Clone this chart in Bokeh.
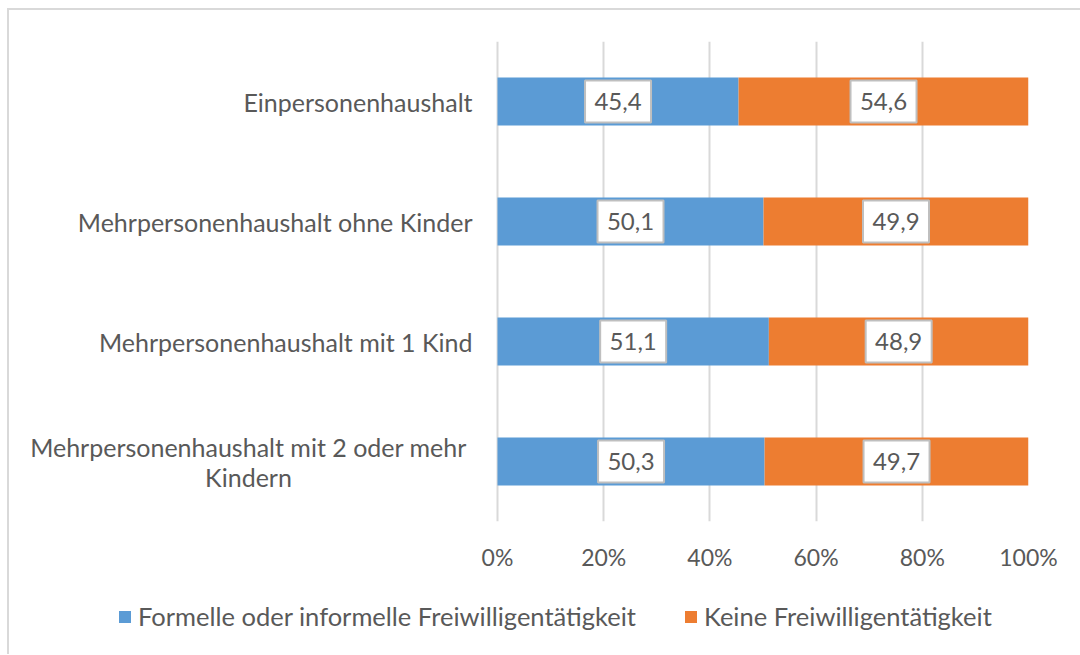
from bokeh.plotting import figure
from bokeh.layouts import column
from bokeh.models import (FactorRange, Range1d, FixedTicker, PrintfTickFormatter,
                          ColumnDataSource, Legend, LegendItem, InlineStyleSheet, Grid)
from bokeh.core.properties import value
from bokeh.embed import file_html
from bokeh.resources import INLINE

categories = ["Einpersonenhaushalt", "Mehrpersonenhaushalt ohne Kinder",
              "Mehrpersonenhaushalt mit 1 Kind", "Mehrpersonenhaushalt mit 2 oder mehr Kindern"]
# the last category label is wrapped onto two lines
wrapped_label = ["Mehrpersonenhaushalt mit 2 oder mehr", "Kindern"]
freiwillig = [45.4, 50.1, 51.1, 50.3]
keine = [54.6, 49.9, 48.9, 49.7]
series_names = ["Formelle oder informelle Freiwilligentätigkeit", "Keine Freiwilligentätigkeit"]
x_ticks = [0, 20, 40, 60, 80, 100]
colors = ["#5B9BD5", "#ED7D31"]

FONT = "Lato"
TXT = "#595959"
CAT_FS = "25px"
LEG_FS = "25.5px"
TICK_FS = "23px"

# layout geometry (pixels)
W = 1080
H_MAIN, H_LEG = 590, 64
LEFT_GUTTER = 497          # space for category labels left of the 0% line
RIGHT = 52
PLOT_W = W - LEFT_GUTTER - RIGHT
x_start = -100 * LEFT_GUTTER / PLOT_W

BG = ("background: linear-gradient(#D9D9D9,#D9D9D9) 7px {top}px / 2px 100% no-repeat{extra}, #FFFFFF;")
css_main = ":host { " + BG.format(top=8, extra=", linear-gradient(#D9D9D9,#D9D9D9) 7px 8px / 100% 2px no-repeat") + " }"
css_leg = ":host { " + BG.format(top=0, extra="") + " }"

factors = list(reversed(categories))
p = figure(width=W, height=H_MAIN,
           y_range=FactorRange(*factors), x_range=Range1d(x_start, 100),
           output_backend="svg", toolbar_location=None, y_axis_location=None,
           min_border_left=0, min_border_right=RIGHT, min_border_top=41, min_border_bottom=69)
p.stylesheets = [InlineStyleSheet(css=css_main)]
p.border_fill_color = None
p.background_fill_color = None

src = ColumnDataSource(dict(cat=categories, a=freiwillig, b=keine))
rs = p.hbar_stack(["a", "b"], y="cat", height=0.4, color=colors, source=src, line_width=0)

# data labels
lx, ly, lt = [], [], []
for c, a, b in zip(categories, freiwillig, keine):
    lx += [a / 2, a + b / 2]
    ly += [c, c]
    lt += [f"{a:.1f}".replace(".", ","), f"{b:.1f}".replace(".", ",")]
lab = ColumnDataSource(dict(x=lx, y=ly, t=lt))
p.rect(x="x", y="y", width=66, height=42, width_units="screen", height_units="screen",
       fill_color="white", line_color="#BFBFBF", line_width=2, source=lab)
p.text(x="x", y="y", text="t", source=lab, text_align="center", text_baseline="middle",
       text_font=value(FONT), text_font_size="24px", text_color=TXT)

# category labels, right-aligned left of the 0% line
cat_src = ColumnDataSource(dict(x=[x_ticks[0]] * 3, y=categories[:3], t=categories[:3]))
p.text(x="x", y="y", text="t", source=cat_src, x_offset=-25, text_align="right",
       text_baseline="middle", text_font=value(FONT), text_font_size=CAT_FS, text_color=TXT)
# wrapped two-line label, lines centred on each other
wrap_src = ColumnDataSource(dict(x=[x_ticks[0]] * 2, y=[categories[3]] * 2, t=wrapped_label,
                                 yo=[-15, 15]))
p.text(x="x", y="y", text="t", source=wrap_src, x_offset=-249, y_offset="yo",
       text_align="center", text_baseline="middle", text_font=value(FONT),
       text_font_size=CAT_FS, text_color=TXT)

p.xaxis.ticker = FixedTicker(ticks=x_ticks)
p.xaxis.formatter = PrintfTickFormatter(format="%d%%")
p.xaxis.axis_line_color = None
p.xaxis.major_tick_line_color = None
p.xaxis.minor_tick_line_color = None
p.xaxis.major_label_standoff = 15
p.xaxis.major_label_text_font = FONT
p.xaxis.major_label_text_font_size = TICK_FS
p.xaxis.major_label_text_color = TXT

p.xgrid.ticker = FixedTicker(ticks=x_ticks)
p.xgrid.grid_line_color = "#D9D9D9"
p.xgrid.grid_line_width = 2
p.ygrid.grid_line_color = None
p.outline_line_color = None

# legend strip below the chart: the same stacked series are added there in muted,
# fully transparent form so that only their legend swatches show
pl = figure(width=W, height=H_LEG, x_range=Range1d(200, 300), y_range=FactorRange(*factors),
            output_backend="svg", toolbar_location=None,
            x_axis_location=None, y_axis_location=None,
            min_border_left=0, min_border_right=0, min_border_top=0, min_border_bottom=0)
pl.stylesheets = [InlineStyleSheet(css=css_leg)]
pl.border_fill_color = None
pl.background_fill_color = None
pl.outline_line_color = None
for g in pl.select(type=Grid):
    g.grid_line_color = None
    g.visible = False
proxies = pl.hbar_stack(["a", "b"], y="cat", height=0.4, color=colors, source=src,
                        line_width=0, muted_alpha=0)
for r in proxies:
    r.muted = True

legend = Legend(items=[LegendItem(label=n, renderers=[r]) for n, r in zip(series_names, proxies)],
                orientation="horizontal", location=(117, 23),
                glyph_width=15, glyph_height=15, label_standoff=6, spacing=47,
                padding=0, margin=0, border_line_color=None, background_fill_alpha=0,
                inactive_fill_alpha=0,
                label_text_font=FONT, label_text_font_size=LEG_FS, label_text_color=TXT)
pl.add_layout(legend)

layout = column(p, pl, spacing=0)
open("out.html", "w").write(file_html(layout, INLINE))
